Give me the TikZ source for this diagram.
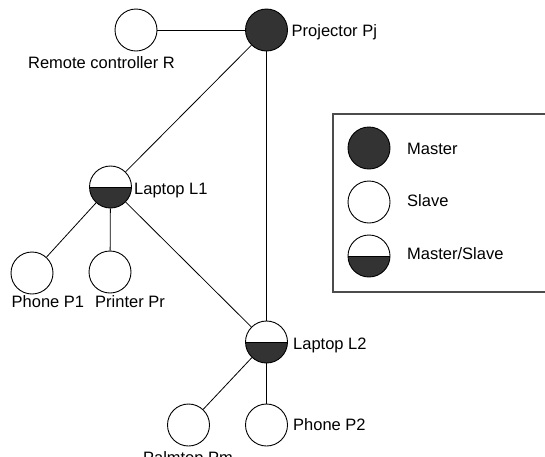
\documentclass[tikz,border=0pt]{standalone}
\usepackage{fontspec}
\setmainfont{Liberation Sans}
\begin{document}
\begin{tikzpicture}[x=1pt,y=-1pt,
  every node/.style={font=\fontsize{16.5}{20}\selectfont},
  dev/.style={circle,draw=black,line width=0.9pt,minimum size=42pt,inner sep=0pt},
  slave/.style={dev,fill=white},
  master/.style={dev,fill=darkfill},
  ms/.style={dev,fill=white,path picture={
     \fill[darkfill] (path picture bounding box.west) rectangle (path picture bounding box.south east);
     \draw[line width=0.9pt] (path picture bounding box.west) -- (path picture bounding box.east);}},
  lbl/.style={inner sep=0pt},
  link/.style={line width=0.8pt,draw=black}]
\definecolor{darkfill}{HTML}{333333}
\useasboundingbox (0,0) rectangle (545,456);
\fill[white] (0,0) rectangle (545,456);

% legend box
\draw[line width=1.1pt,draw=black!70] (550,114) -- (333,114) -- (333,292) -- (550,292);
\node[master] (lm) at (369,148) {};
\node[slave]  (ls) at (369,202) {};
\node[ms]     (lms) at (369,256) {};
\node[lbl,anchor=base west] (tm) at (407,154.3) {Master};
\node[lbl,anchor=base west] (ts) at (407,206.7) {Slave};
\node[lbl,anchor=base west] (tms) at (407,259.3) {Master/Slave};

% nodes
\node[slave]  (R)  at (136,30) {};
\node[master] (Pj) at (266.5,30) {};
\node[ms]     (L1) at (110.5,187) {};
\node[ms]     (L2) at (266.5,342) {};
\node[slave]  (P1) at (32,273) {};
\node[slave]  (Pr) at (110,272) {};
\node[slave]  (Pm) at (188.5,425) {};
\node[slave]  (P2) at (266.5,425) {};

% links
\draw[link] (R) -- (Pj);
\draw[link] (Pj) -- (L1);
\draw[link] (Pj) -- (L2);
\draw[link] (L1) -- (P1);
\draw[link] (L1) -- (Pr);
\draw[link] (L1) -- (L2);
\draw[link] (L2) -- (Pm);
\draw[link] (L2) -- (P2);

% labels
\node[lbl,anchor=base west] (tPj) at (291.5,36) {Projector Pj};
\node[lbl,anchor=base] (tR) at (101.5,68) {Remote controller R};
\node[lbl,anchor=base west] (tL1) at (134,194.5) {Laptop L1};
\node[lbl,anchor=base west] (tL2) at (293,349.5) {Laptop L2};
\node[lbl,anchor=base west] (tP2) at (293,430) {Phone P2};
\node[lbl,anchor=base] (tPm) at (188,463.5) {Palmtop Pm};
\node[lbl,anchor=base west] (tP1) at (11.5,307) {Phone P1};
\node[lbl,anchor=base west] (tPr) at (95,307) {Printer Pr};
\end{tikzpicture}
\end{document}
